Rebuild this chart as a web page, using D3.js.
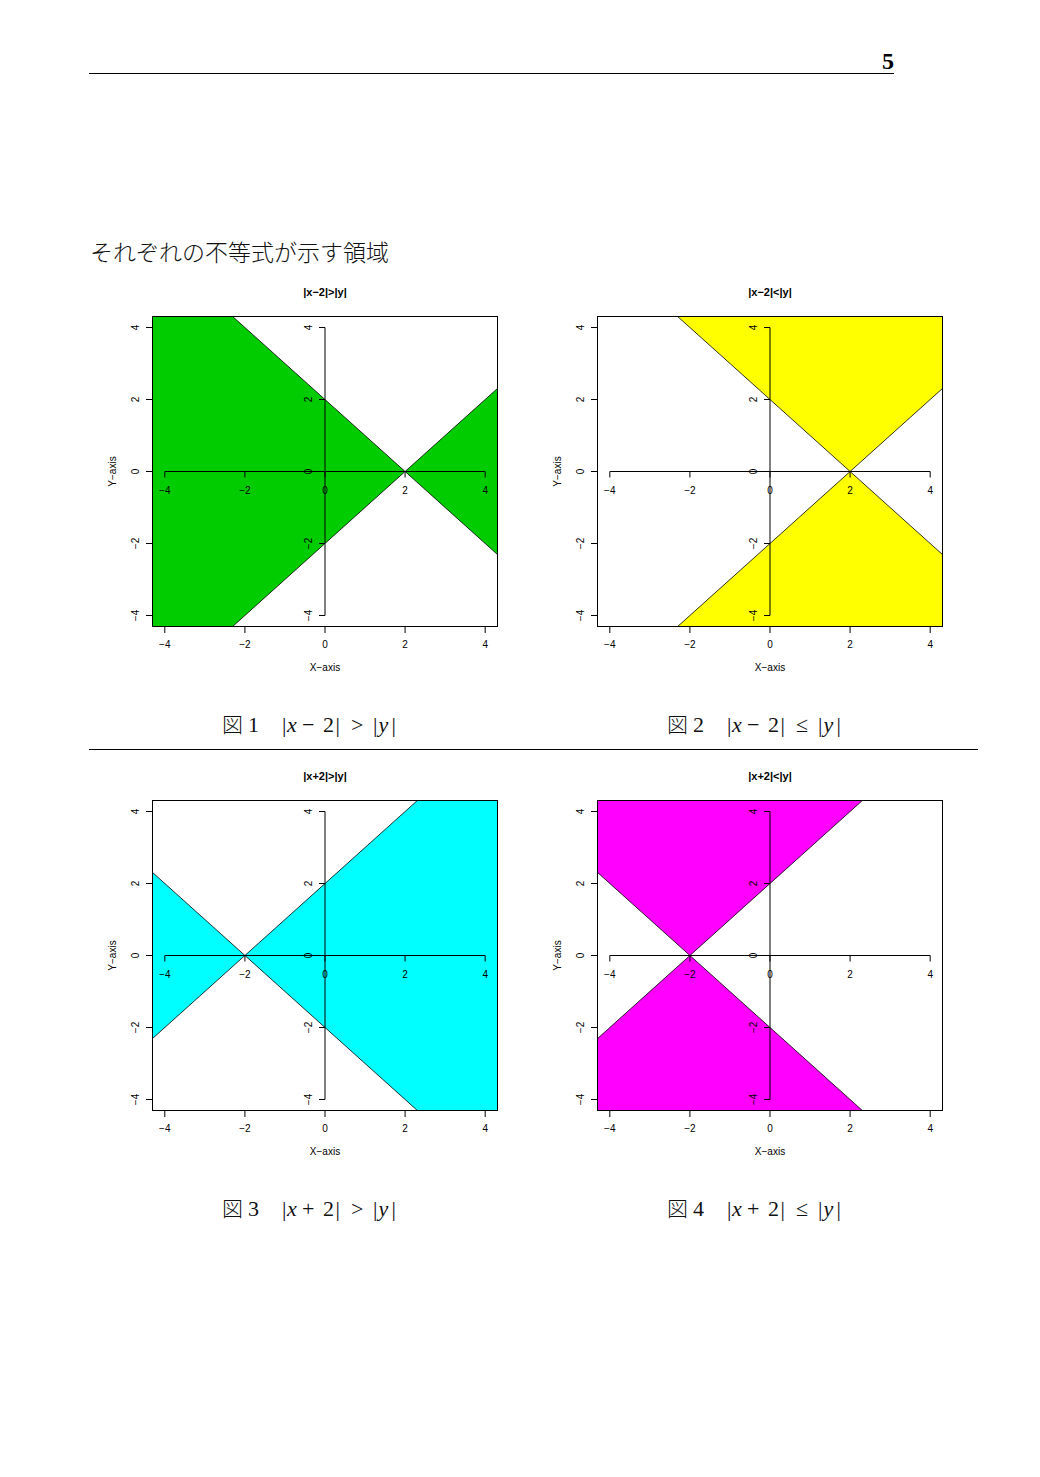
<!DOCTYPE html>
<html><head><meta charset="utf-8">
<script src="https://cdn.jsdelivr.net/npm/d3@7"></script>
<style>
body{margin:0;background:#fff;}
svg{display:block;}
</style></head>
<body>
<script>
// ---- data ----
const chartTitles = ["|x\u22122|>|y|", "|x\u22122|<|y|", "|x+2|>|y|", "|x+2|<|y|"];
const vertexX = [2, 2, -2, -2];            // where the two lines y=±(x-c) cross
const regionKind = ["sides", "topbottom", "sides", "topbottom"];
const fillColors = ["#00CC00", "#FFFF00", "#00FFFF", "#FF00FF"];
const figNumbers = ["1", "2", "3", "4"];
const captionSign = ["\u2212", "\u2212", "+", "+"];
const captionRel = [">", "\u2264", ">", "\u2264"];
const tickValues = [-4, -2, 0, 2, 4];
const axisDomain = [-4.32, 4.32];
const pageTitle = "それぞれの不等式が示す領域";
const pageNumber = "5";

const W = 1040, H = 1477;
const svg = d3.select("body").append("svg").attr("width", W).attr("height", H)
  .style("font-family", "'Liberation Sans', Arial, sans-serif");

// header
svg.append("text").attr("x", 894).attr("y", 69).attr("text-anchor", "end")
  .style("font-family", "'Liberation Serif', 'DejaVu Serif', serif")
  .style("font-weight", "bold").style("font-size", "24px").text(pageNumber);
svg.append("line").attr("x1", 89).attr("x2", 894).attr("y1", 73.5).attr("y2", 73.5)
  .attr("stroke", "#000").attr("stroke-width", 1);

svg.append("text").attr("x", 90).attr("y", 261)
  .style("font-family", "'Noto Sans CJK JP', sans-serif")
  .style("font-size", "23px").style("font-weight", 300).attr("fill", "#111").text(pageTitle);

// separator between rows
svg.append("line").attr("x1", 89).attr("x2", 978).attr("y1", 749.5).attr("y2", 749.5)
  .attr("stroke", "#000").attr("stroke-width", 1);

const offsets = [[0, 0], [445, 0], [0, 484], [445, 484]];
const boxL = 152, boxR = 498, boxT = 316, boxB = 627;
const E = 12;

chartTitles.forEach((title, i) => {
  const [dx, dy] = offsets[i];
  const g = svg.append("g").attr("transform", `translate(${dx},${dy})`);
  const x = d3.scaleLinear().domain(axisDomain).range([boxL, boxR]);
  const y = d3.scaleLinear().domain(axisDomain).range([boxB, boxT]);
  const c = vertexX[i];
  const clipId = "clip" + i;
  g.append("clipPath").attr("id", clipId).append("rect")
    .attr("x", boxL).attr("y", boxT).attr("width", boxR - boxL).attr("height", boxB - boxT);

  const polys = regionKind[i] === "sides"
    ? [[[c, 0], [c - E, E], [c - E, -E]], [[c, 0], [c + E, E], [c + E, -E]]]
    : [[[c, 0], [c - E, E], [c + E, E]], [[c, 0], [c - E, -E], [c + E, -E]]];
  const line = d3.line().x(d => x(d[0])).y(d => y(d[1]));
  const plot = g.append("g").attr("clip-path", `url(#${clipId})`);
  polys.forEach(p => {
    plot.append("path").attr("d", line(p) + "Z").attr("fill", fillColors[i]).attr("stroke", "none");
  });
  [[[c - E, -E], [c + E, E]], [[c - E, E], [c + E, -E]]].forEach(seg => {
    plot.append("path").attr("d", line(seg)).attr("fill", "none").attr("stroke", "#000").attr("stroke-width", 0.8);
  });

  // box
  g.append("rect").attr("x", boxL + 0.5).attr("y", boxT + 0.5).attr("width", boxR - boxL - 1).attr("height", boxB - boxT - 1)
    .attr("fill", "none").attr("stroke", "#000").attr("stroke-width", 1);

  const fs = "10px";
  const lab = t => (t < 0 ? "\u2212" + Math.abs(t) : String(t));
  // outer bottom / left axes
  tickValues.forEach(t => {
    g.append("line").attr("x1", x(t)).attr("x2", x(t)).attr("y1", boxB).attr("y2", boxB + 6).attr("stroke", "#000");
    g.append("text").attr("x", x(t)).attr("y", boxB + 20.5).attr("text-anchor", "middle").style("font-size", fs).text(lab(t));
    g.append("line").attr("x1", boxL - 6).attr("x2", boxL).attr("y1", y(t)).attr("y2", y(t)).attr("stroke", "#000");
    g.append("text").attr("transform", `translate(${boxL - 13},${y(t)}) rotate(-90)`).attr("text-anchor", "middle")
      .style("font-size", fs).text(lab(t));
  });

  // inner axes through origin
  const x0 = x(0), y0 = y(0);
  g.append("line").attr("x1", x(-4)).attr("x2", x(4)).attr("y1", y0).attr("y2", y0).attr("stroke", "#000");
  g.append("line").attr("x1", x0).attr("x2", x0).attr("y1", y(-4)).attr("y2", y(4)).attr("stroke", "#000");
  tickValues.forEach(t => {
    g.append("line").attr("x1", x(t)).attr("x2", x(t)).attr("y1", y0).attr("y2", y0 + 6).attr("stroke", "#000");
    g.append("text").attr("x", x(t)).attr("y", y0 + 22).attr("text-anchor", "middle").style("font-size", fs).text(lab(t));
    g.append("line").attr("x1", x0 - 6).attr("x2", x0).attr("y1", y(t)).attr("y2", y(t)).attr("stroke", "#000");
    g.append("text").attr("transform", `translate(${x0 - 13},${y(t)}) rotate(-90)`).attr("text-anchor", "middle")
      .style("font-size", fs).text(lab(t));
  });

  // titles and axis labels
  g.append("text").attr("x", (boxL + boxR) / 2).attr("y", 296).attr("text-anchor", "middle")
    .style("font-size", "11px").style("font-weight", "bold").text(title);
  g.append("text").attr("x", (boxL + boxR) / 2).attr("y", 670.5).attr("text-anchor", "middle")
    .style("font-size", fs).text("X\u2212axis");
  g.append("text").attr("transform", `translate(116,${(boxT + boxB) / 2}) rotate(-90)`).attr("text-anchor", "middle")
    .style("font-size", fs).text("Y\u2212axis");

  // caption
  const cap = g.append("text").attr("y", 732)
    .style("font-family", "'Liberation Serif', 'DejaVu Serif', serif").style("font-size", "22px").attr("fill", "#111");
  const piece = (xp, txt, italic) => {
    const t = cap.append("tspan").attr("x", xp).text(txt);
    if (italic) t.style("font-style", "italic");
    return t;
  };
  piece(222, "図").style("font-family", "'Noto Sans CJK JP', sans-serif").style("font-weight", 300).style("font-size", "21px");
  piece(248, figNumbers[i]);
  piece(282, "|");
  piece(287, "x", true);
  piece(302, captionSign[i]);
  piece(323, "2");
  piece(335.5, "|");
  piece(351, captionRel[i]);
  piece(373, "|");
  piece(378.5, "y", true);
  piece(391.5, "|");
});
</script>
</body></html>
